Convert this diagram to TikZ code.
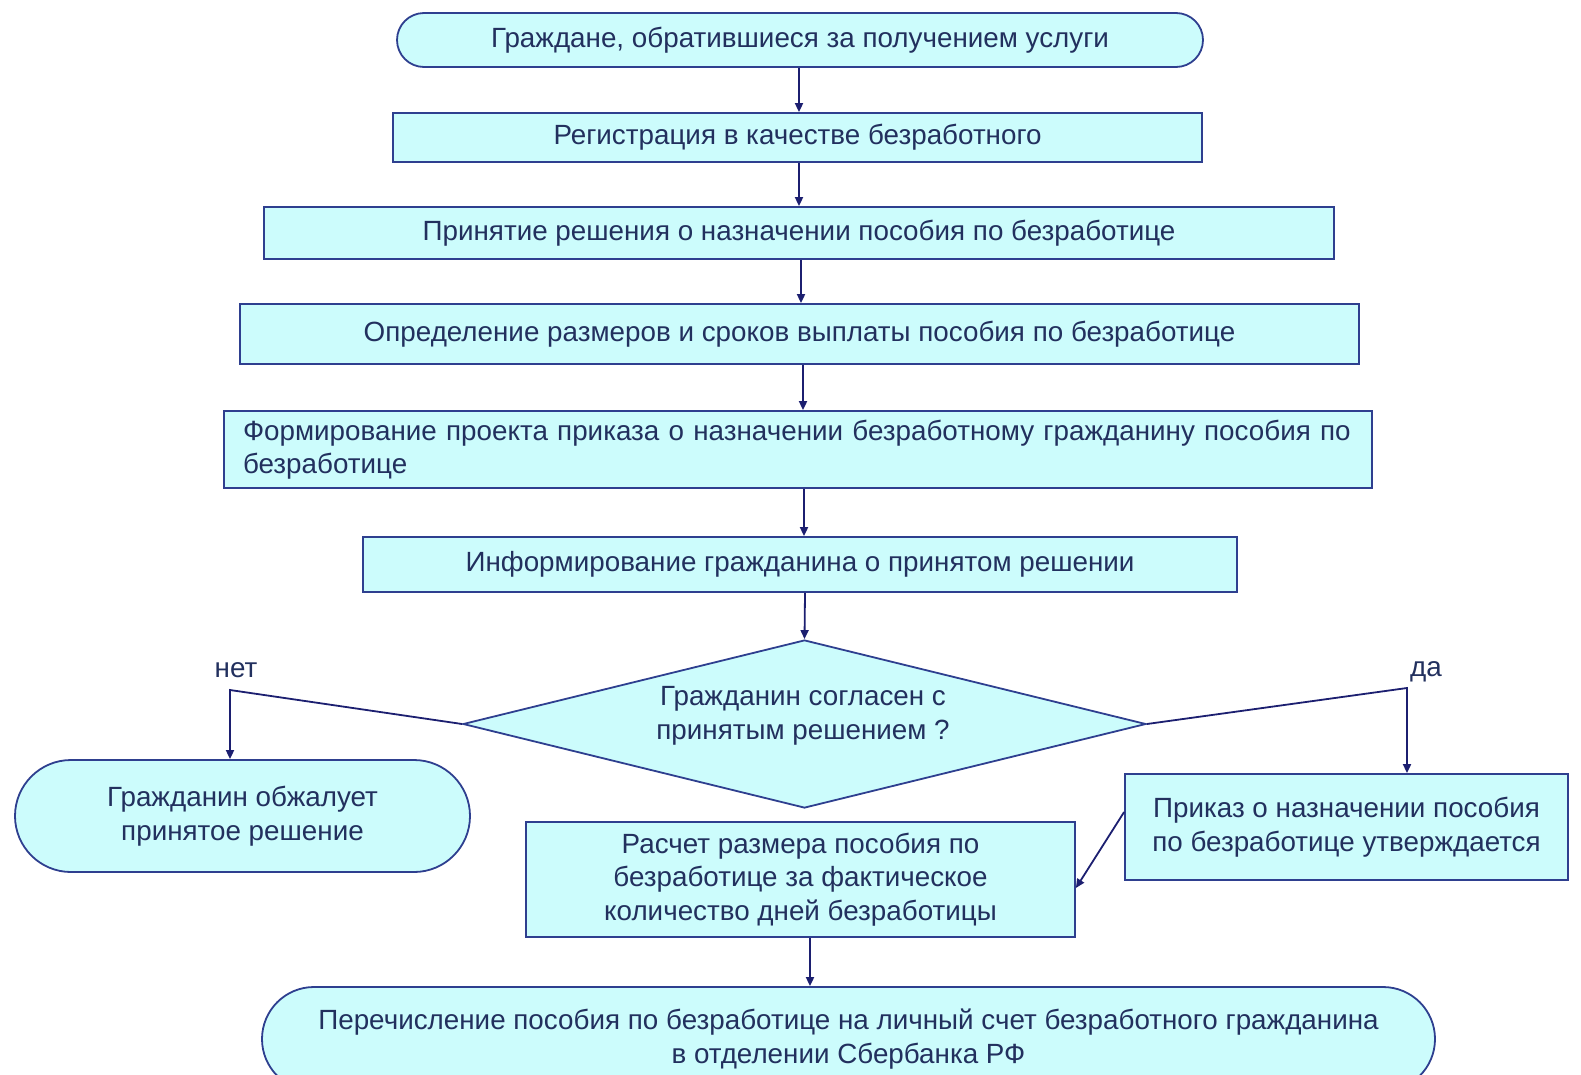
\documentclass[tikz,border=0pt]{standalone}
\usepackage{fontspec}
\setmainfont{Liberation Sans}
\usetikzlibrary{shapes.geometric,shapes.misc,arrows.meta}
\definecolor{boxfill}{HTML}{CCFCFC}
\definecolor{boxline}{HTML}{2E3F8F}
\definecolor{txt}{HTML}{22305E}
\definecolor{arr}{HTML}{1C1F70}
\begin{document}
\begin{tikzpicture}[x=1pt,y=-1pt,
  base/.style={draw=boxline,fill=boxfill,line width=1.8pt,text=txt,inner sep=0pt,
    font=\fontsize{27.8}{33.5}\selectfont,align=center},
  rbox/.style={base,rectangle},
  pill/.style={base,rounded rectangle},
  dec/.style={base,diamond},
  lbl/.style={text=txt,font=\fontsize{27.8}{33.5}\selectfont,inner sep=0pt},
  conn/.style={draw=arr,line width=1.8pt,-{Triangle[length=9pt,width=8pt]}}]
\useasboundingbox (0,0) rectangle (1581,1074);
\clip (0,0) rectangle (1581,1074);

\node[pill,minimum width=806pt,minimum height=54pt] (n1) at (800,40) {Граждане, обратившиеся за получением услуги};
\node[rbox,minimum width=809pt,minimum height=49pt] (n2) at (797.5,137.5) {Регистрация в качестве безработного};
\node[rbox,minimum width=1070pt,minimum height=52pt] (n3) at (799,233) {Принятие решения о назначении пособия по безработице};
\node[rbox,minimum width=1119pt,minimum height=60pt] (n4) at (799.5,334) {Определение размеров и сроков выплаты пособия по безработице};
\node[rbox,minimum width=1148pt,minimum height=77pt,text width=1110pt,align=left] (n5) at (798,449.5) {Формирование проекта приказа о назначении безработному гражданину пособия по\\безработице};
\node[rbox,minimum width=874pt,minimum height=55pt] (n6) at (800,564.5) {Информирование гражданина о принятом решении};
\node[dec,minimum width=683pt,minimum height=168pt] (d) at (804.5,724) {};
\node[lbl,align=center] (dt) at (803,716) {Гражданин согласен с\\принятым решением ?};
\node[pill,minimum width=455pt,minimum height=112pt] (no) at (242.5,816) {Гражданин обжалует\\принятое решение};
\node[rbox,minimum width=443pt,minimum height=106pt] (yes) at (1346.5,827) {Приказ о назначении пособия\\по безработице утверждается};
\node[rbox,minimum width=549pt,minimum height=115pt] (calc) at (800.5,879.5) {Расчет размера пособия по\\безработице за фактическое\\количество дней безработицы};
\node[pill,minimum width=1173pt,minimum height=104pt] (pay) at (848.5,1039) {Перечисление пособия по безработице на личный счет безработного гражданина\\в отделении Сбербанка РФ};

\node[lbl] (lno) at (236,670) {нет};
\node[lbl] (lyes) at (1426,672) {да};

\coordinate (cno) at (230,690);
\coordinate (cyes) at (1407,688);

\draw[conn] (n1.south -| 799,0) -- (n2.north -| 799,0);
\draw[conn] (n2.south -| 799,0) -- (n3.north -| 799,0);
\draw[conn] (n3.south -| 801,0) -- (n4.north -| 801,0);
\draw[conn] (n4.south -| 803,0) -- (n5.north -| 803,0);
\draw[conn] (n5.south -| 804,0) -- (n6.north -| 804,0);
\draw[conn] (n6.south -| 805,0) -- (d.north);
\draw[conn] (d.west) -- (cno) -- (cno |- no.north);
\draw[conn] (d.east) -- (cyes) -- (cyes |- yes.north);
\draw[conn] (yes.west |- 0,812) -- (calc.east |- 0,888);
\draw[conn] (calc.south -| 810,0) -- (pay.north -| 810,0);
\end{tikzpicture}
\end{document}
